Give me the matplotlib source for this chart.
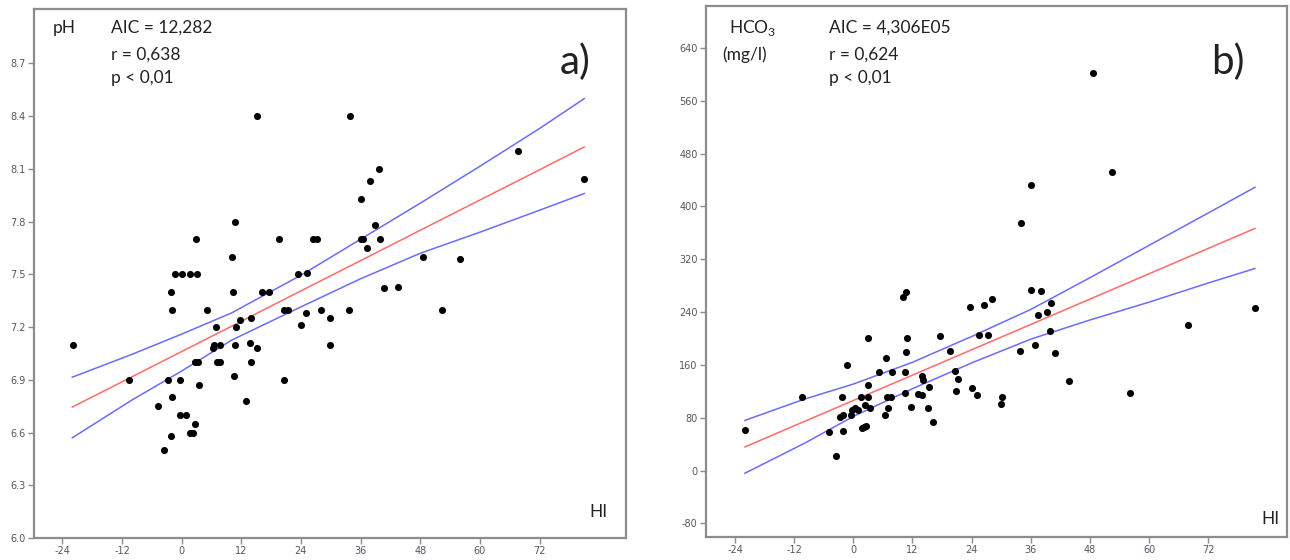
import matplotlib
matplotlib.use('Agg')
import matplotlib.pyplot as plt

plt.rcParams['font.family'] = ['Lato', 'DejaVu Sans']
plt.rcParams['mathtext.fontset'] = 'custom'
plt.rcParams['mathtext.rm'] = 'Lato'
plt.rcParams['axes.unicode_minus'] = False

# panel a) pH vs HI
ph_hi = [-21.9, -10.5, -4.8, -3.6, -2.8, -2.2, -2.1, -1.9, -1.9, -1.4, 0.1, 1.6, 3.1,
         -0.3, -0.3, 0.85, 1.6, 2.2, 2.6, 2.6, 3.2, 3.4, 2.9, 5.2, 6.9, 6.4, 6.5, 7.7,
         7.2, 7.7, 10.2, 10.8, 10.4, 11.0, 10.8, 10.5, 11.8, 14.0, 13.8, 14.0, 15.2,
         13.0, 15.1, 16.1, 17.5, 19.5, 20.5, 21.3, 20.6, 24.0, 23.5, 25.2, 25.0, 26.4,
         27.2, 28.0, 29.9, 29.8, 33.6, 33.8, 36.0, 37.9, 39.7, 38.9, 36.0, 36.5, 39.9,
         37.3, 40.7, 43.5, 48.6, 52.3, 56.0, 67.6, 81.0]
ph = [7.10, 6.90, 6.75, 6.50, 6.90, 7.40, 6.58, 7.30, 6.80, 7.50, 7.50, 7.50, 7.50,
      6.90, 6.70, 6.70, 6.60, 6.60, 6.65, 7.00, 7.00, 6.87, 7.70, 7.30, 7.20, 7.08, 7.10, 7.10,
      7.00, 7.00, 7.60, 7.80, 7.40, 7.20, 7.10, 6.92, 7.24, 7.25, 7.11, 7.00, 7.08,
      6.78, 8.40, 7.40, 7.40, 7.70, 7.30, 7.30, 6.90, 7.21, 7.50, 7.51, 7.28, 7.70,
      7.70, 7.30, 7.25, 7.10, 7.30, 8.40, 7.93, 8.03, 8.10, 7.78, 7.70, 7.70, 7.70,
      7.65, 7.42, 7.43, 7.60, 7.30, 7.59, 8.20, 8.04]

# fitted line and confidence band for panel a)
fit_x = [-22, -10, 0, 10, 24, 36, 48, 60, 72, 81]
ph_fit = [6.745, 6.917, 7.061, 7.204, 7.406, 7.578, 7.751, 7.923, 8.095, 8.225]
ph_upper = [6.915, 7.045, 7.160, 7.280, 7.495, 7.700, 7.905, 8.115, 8.330, 8.500]
ph_lower = [6.570, 6.785, 6.950, 7.125, 7.315, 7.475, 7.620, 7.740, 7.865, 7.960]

# panel b) HCO3 vs HI
hco3_hi = [-22.0, -10.5, -4.9, -3.6, -2.2, -2.8, -2.0, -0.4, -0.3, 0.3, 0.9, -2.35,
           -1.3, 1.6, 2.9, 3.0, 3.0, 2.3, 3.4, 1.7, 2.1, 2.6, 5.2, 6.6, 7.8, 6.8, 7.6,
           7.1, 6.4, 10.1, 10.7, 10.9, 10.7, 10.4, 10.5, 11.8, 14.0, 14.2, 13.1, 13.9,
           15.3, 15.2, 16.2, 17.6, 19.6, 20.6, 21.3, 20.8, 23.7, 26.6, 28.2, 25.4, 27.4,
           24.1, 25.0, 30.1, 30.0, 34.0, 36.0, 48.7, 52.5, 36.0, 38.0, 40.2, 39.2, 37.5,
           39.9, 36.9, 33.8, 40.9, 43.8, 56.2, 68.0, 81.5]
hco3 = [61, 111, 58, 22, 60, 81, 84, 84, 91, 94, 91, 111,
        160, 111, 111, 200, 129, 99, 94, 64, 66, 68, 150, 170, 150, 111, 111,
        94, 84, 263, 271, 200, 180, 150, 118, 96, 143, 137, 116, 114,
        127, 94, 73, 204, 181, 151, 139, 121, 248, 250, 260, 206, 206,
        125, 114, 111, 101, 375, 432, 602, 452, 273, 272, 254, 240, 235,
        211, 190, 181, 178, 135, 118, 221, 246]

fit_x_b = [-22, -10, 0, 12, 24, 36, 48, 60, 72, 81.5]
hco3_fit = [35.8, 74.2, 106.1, 144.5, 182.9, 221.2, 259.6, 298.0, 336.3, 366.7]
hco3_upper = [76, 108, 131, 164, 203, 244, 292, 341, 390, 429]
hco3_lower = [-4, 41, 82, 124, 163, 199, 228, 255, 284, 306]

x_ticks = [-24, -12, 0, 12, 24, 36, 48, 60, 72]
ph_ticks = [6.0, 6.3, 6.6, 6.9, 7.2, 7.5, 7.8, 8.1, 8.4, 8.7]
hco3_ticks = [-80, 0, 80, 160, 240, 320, 400, 480, 560, 640]

W, H = 1290, 560
fig = plt.figure(figsize=(W / 100, H / 100), dpi=100)


def px_axes(l, t, r, b):
    return fig.add_axes([l / W, 1 - b / H, (r - l) / W, (b - t) / H])


def style(ax):
    for s in ax.spines.values():
        s.set_color('#8c8c8c')
        s.set_linewidth(1.6)
    ax.tick_params(direction='out', length=4, width=1, color='#8c8c8c',
                   labelsize=7, labelcolor='#555566', pad=2)
    for lab in ax.get_xticklabels() + ax.get_yticklabels():
        lab.set_fontfamily('DejaVu Sans')


def ftext(x, y, s, size=12.5, **kw):
    fig.text(x / W, 1 - y / H, s, fontsize=size, va='center', ha='left', color='#222222', **kw)


blue = '#6b6bff'
red = '#ff6b6b'

ax1 = px_axes(34, 9, 626, 538)
ax1.plot(fit_x, ph_upper, color=blue, lw=1.1)
ax1.plot(fit_x, ph_lower, color=blue, lw=1.1)
ax1.plot(fit_x, ph_fit, color=red, lw=1.1)
ax1.scatter(ph_hi, ph, s=26, color='black', zorder=3, linewidths=0)
ax1.set_xlim(-29.7, 89.4)
ax1.set_ylim(6.0, 9.01)
ax1.set_xticks(x_ticks)
ax1.set_yticks(ph_ticks)
ax1.set_yticklabels(['%.1f' % v for v in ph_ticks])
style(ax1)

ax2 = px_axes(706, 6, 1287, 537)
ax2.plot(fit_x_b, hco3_upper, color=blue, lw=1.1)
ax2.plot(fit_x_b, hco3_lower, color=blue, lw=1.1)
ax2.plot(fit_x_b, hco3_fit, color=red, lw=1.1)
ax2.scatter(hco3_hi, hco3, s=26, color='black', zorder=3, linewidths=0)
ax2.set_xlim(-29.9, 88.0)
ax2.set_ylim(-100.6, 703.5)
ax2.set_xticks(x_ticks)
ax2.set_yticks(hco3_ticks)
style(ax2)

# annotations panel a)
ftext(53, 28, 'pH')
ftext(111, 28, 'AIC = 12,282')
ftext(111, 55, 'r = 0,638')
ftext(111, 78, 'p < 0,01')
ftext(560, 62, 'a)', size=29)
ftext(589, 512, 'HI')

# annotations panel b)
ftext(729, 28, r'HCO$_\mathregular{3}$')
ftext(722, 55, '(mg/l)')
ftext(829, 28, 'AIC = 4,306E05')
ftext(829, 55, 'r = 0,624')
ftext(829, 78, 'p < 0,01')
ftext(1211, 62, 'b)', size=29)
ftext(1261, 519, 'HI')

fig.savefig('out.png', dpi=100)
